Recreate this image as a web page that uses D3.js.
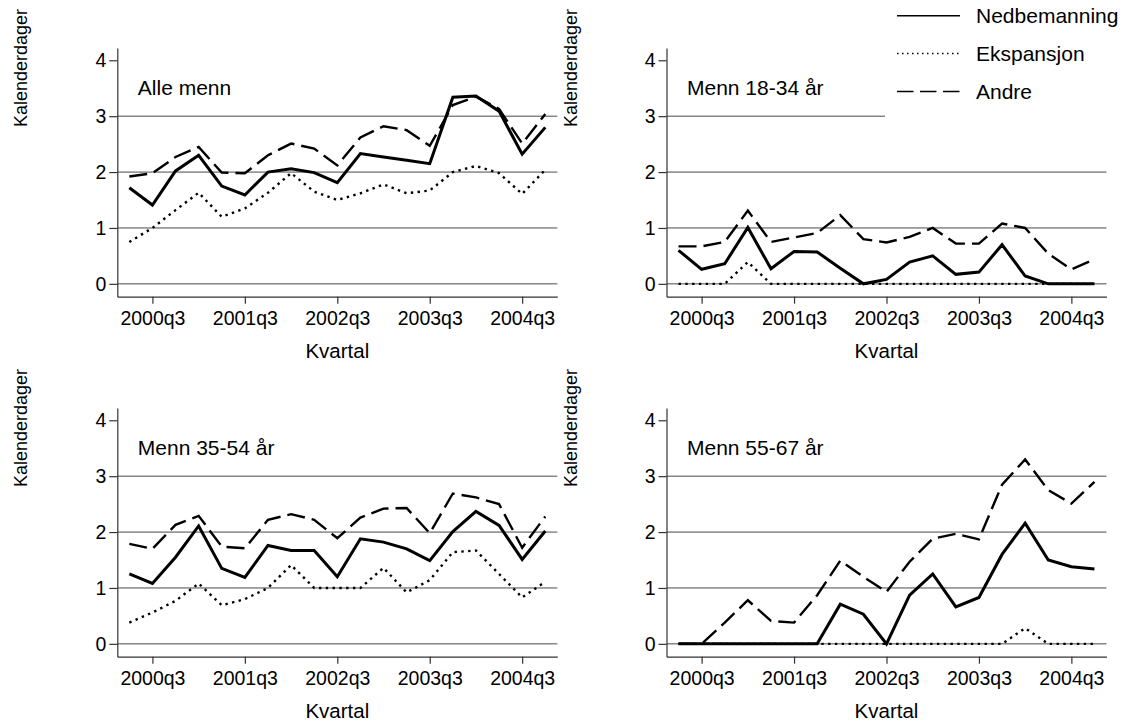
<!DOCTYPE html>
<html>
<head>
<meta charset="utf-8">
<script src="https://cdn.jsdelivr.net/npm/d3@7"></script>
<style>
  body { margin: 0; background: #fff; }
  text { font-family: "Liberation Sans", Arial, sans-serif; fill: #000; }
</style>
</head>
<body>
<script>
// quarters on the x axis, 2000q2 .. 2004q4
var quarters = ["2000q2","2000q3","2000q4","2001q1","2001q2","2001q3","2001q4","2002q1","2002q2","2002q3",
                "2002q4","2003q1","2003q2","2003q3","2003q4","2004q1","2004q2","2004q3","2004q4"];
var xTickQuarters = ["2000q3","2001q3","2002q3","2003q3","2004q3"];
var yTicks = [0, 1, 2, 3, 4];
var gridValues = [0, 1, 2, 3];

var seriesNames = ["Nedbemanning", "Ekspansjon", "Andre"];
var panelTitles = ["Alle menn", "Menn 18-34 år", "Menn 35-54 år", "Menn 55-67 år"];

// Alle menn
var alleNed = [1.72,1.41,2.02,2.30,1.75,1.59,2.00,2.06,1.99,1.81,2.33,2.27,2.21,2.15,3.34,3.36,3.09,2.32,2.80];
var alleEks = [0.75,1.00,1.32,1.63,1.20,1.35,1.63,1.98,1.65,1.50,1.62,1.78,1.62,1.67,2.00,2.11,1.98,1.61,2.04];
var alleAnd = [1.92,1.98,2.27,2.45,1.99,1.98,2.30,2.51,2.42,2.12,2.62,2.82,2.75,2.47,3.20,3.35,3.13,2.51,3.04];
// Menn 18-34
var m1834Ned = [0.60,0.26,0.36,1.01,0.27,0.58,0.57,0.28,0.00,0.08,0.39,0.50,0.17,0.21,0.70,0.14,0.00,0.00,0.00];
var m1834Eks = [0,0,0,0.39,0,0,0,0,0,0,0,0,0,0,0,0,0,0,0];
var m1834And = [0.67,0.67,0.75,1.31,0.75,0.83,0.91,1.23,0.80,0.74,0.84,1.00,0.72,0.72,1.08,1.00,0.54,0.26,0.44];
// Menn 35-54
var m3554Ned = [1.25,1.08,1.55,2.11,1.35,1.19,1.76,1.67,1.67,1.20,1.88,1.82,1.70,1.49,2.01,2.37,2.12,1.51,2.02];
var m3554Eks = [0.38,0.56,0.77,1.08,0.69,0.80,1.00,1.41,1.00,1.00,1.00,1.36,0.92,1.14,1.64,1.67,1.25,0.83,1.11];
var m3554And = [1.79,1.70,2.13,2.29,1.74,1.71,2.22,2.32,2.22,1.89,2.26,2.42,2.43,1.98,2.69,2.62,2.50,1.72,2.28];
// Menn 55-67
var m5567Ned = [0,0,0,0,0,0,0,0.71,0.53,0,0.87,1.25,0.66,0.83,1.60,2.16,1.50,1.38,1.34];
var m5567Eks = [0,0,0,0,0,0,0,0,0,0,0,0,0,0,0,0.28,0,0,0];
var m5567And = [0,0,0.38,0.78,0.41,0.38,0.87,1.49,1.20,0.93,1.47,1.88,1.97,1.87,2.85,3.30,2.75,2.51,2.90];

var panelData = [
    [alleNed, alleEks, alleAnd],
    [m1834Ned, m1834Eks, m1834And],
    [m3554Ned, m3554Eks, m3554And],
    [m5567Ned, m5567Eks, m5567And]
];

var width = 1123, height = 722;
var panelLeft = [117.3, 666.5],
    panelTop = [48, 408],
    pw = 440,
    ph = 248.7;

// line styles per series: solid, dotted, dashed
var styles = [
    {width: 3, dash: null},
    {width: 2.4, dash: "2.4,4.4"},
    {width: 2.4, dash: "18,7"}
];
var legendStyles = [
    {width: 1.4, dash: null},
    {width: 1.4, dash: "1.5,3.5"},
    {width: 1.4, dash: "16.5,6.5"}
];

var svg = d3.select("body")
    .append("svg")
    .attr("width", width)
    .attr("height", height);

var x = d3.scaleLinear()
    .domain([-0.52, quarters.length - 1 + 0.52])
    .range([0, pw]);

var y = d3.scaleLinear()
    .domain([-0.23, 4.22])
    .range([ph, 0]);

var line = d3.line()
    .x(function (d, i) { return x(i); })
    .y(function (d) { return y(d); });

panelData.forEach(function (series, p) {
    var col = p % 2, row = Math.floor(p / 2);
    var g = svg.append("g")
        .attr("transform", "translate(" + panelLeft[col] + "," + panelTop[row] + ")");

    //gridlines
    g.selectAll(".grid")
        .data(gridValues)
        .enter()
        .append("line")
        .attr("class", "grid")
        .attr("x1", 0)
        .attr("x2", pw)
        .attr("y1", function (d) { return y(d); })
        .attr("y2", function (d) { return y(d); })
        .attr("stroke", "#4a4a4a")
        .attr("stroke-width", 1);

    //axes
    var xAxis = d3.axisBottom(x)
        .tickValues(xTickQuarters.map(function (q) { return quarters.indexOf(q); }))
        .tickFormat(function (d) { return quarters[d]; })
        .tickSize(7)
        .tickSizeOuter(0)
        .tickPadding(8);

    var yAxis = d3.axisLeft(y)
        .tickValues(yTicks)
        .tickFormat(d3.format("d"))
        .tickSize(8)
        .tickSizeOuter(0)
        .tickPadding(3);

    var gx = g.append("g")
        .attr("transform", "translate(0," + ph + ")")
        .call(xAxis);
    var gy = g.append("g").call(yAxis);

    [gx, gy].forEach(function (a) {
        a.selectAll("path, line").attr("stroke", "#333").attr("stroke-width", 1.2);
        a.selectAll("text")
            .style("font-family", "'Liberation Sans', Arial, sans-serif")
            .style("font-size", "19.5px")
            .attr("fill", "#000");
    });
    gx.selectAll("text").attr("dy", "0.66em");

    //series lines
    series.forEach(function (vals, s) {
        g.append("path")
            .datum(vals)
            .attr("fill", "none")
            .attr("stroke", "#000")
            .attr("stroke-width", styles[s].width)
            .attr("stroke-dasharray", styles[s].dash)
            .attr("stroke-linejoin", "miter")
            .attr("d", line);
    });

    //panel title
    g.append("text")
        .attr("x", 20.5)
        .attr("y", 47)
        .style("font-size", "21px")
        .text(panelTitles[p]);

    //axis titles
    g.append("text")
        .attr("x", pw / 2)
        .attr("y", ph + 61)
        .attr("text-anchor", "middle")
        .style("font-size", "20.5px")
        .text("Kvartal");

    g.append("text")
        .attr("transform", "translate(-90,20) rotate(-90)")
        .attr("text-anchor", "middle")
        .style("font-size", "18px")
        .text("Kalenderdager");
});

//legend, white box over the top right corner
var legend = svg.append("g");
legend.append("rect")
    .attr("x", 885)
    .attr("y", 0)
    .attr("width", width - 885)
    .attr("height", 122)
    .attr("fill", "#fff");

var legendY = [15.7, 53.5, 91.5];
seriesNames.forEach(function (name, s) {
    legend.append("line")
        .attr("x1", 897)
        .attr("x2", 960)
        .attr("y1", legendY[s])
        .attr("y2", legendY[s])
        .attr("stroke", "#000")
        .attr("stroke-width", legendStyles[s].width)
        .attr("stroke-dasharray", legendStyles[s].dash);
    legend.append("text")
        .attr("x", 976)
        .attr("y", legendY[s] + 7.5)
        .style("font-size", "21px")
        .text(name);
});
</script>
</body>
</html>
